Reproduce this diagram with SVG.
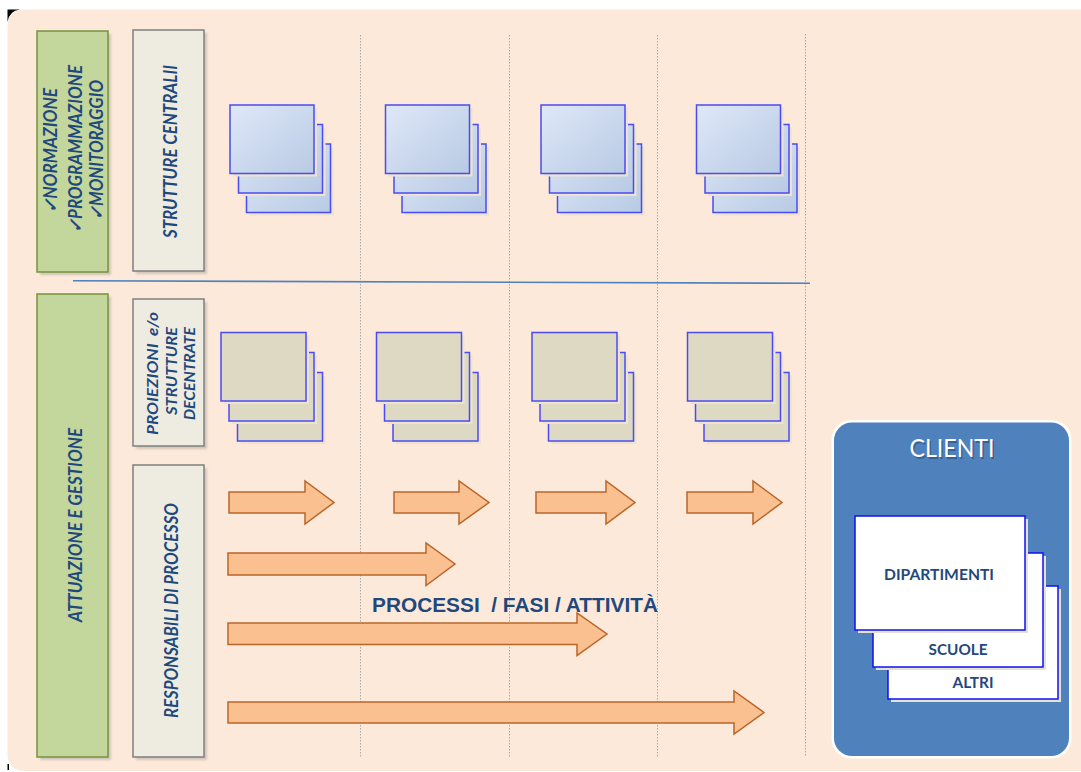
<svg xmlns="http://www.w3.org/2000/svg" xmlns:xlink="http://www.w3.org/1999/xlink" width="1081" height="772" viewBox="0 0 1081 772">
  <defs>
    <style>
      .lbl { font-family: Lato, "Open Sans", "Liberation Sans", sans-serif; font-style: italic; font-weight: bold; fill: #1F497D; }
      .green { fill: #C3D69B; stroke: #77933C; stroke-width: 1.5; }
      .gray { fill: #EEECE1; stroke: #7F7F7F; stroke-width: 1.5; }
      .shadow { fill: #9A9A9A; opacity: 0.45; }
      .card-shadow { fill: #EDE3D0; }
      .card-blue { fill: url(#gBlue); stroke: #4B4BF0; stroke-width: 1.5; }
      .card-tan { fill: #DDD9C3; stroke: #4B4BF0; stroke-width: 1.5; }
      .card-white { fill: #FFFFFF; stroke: #1010F0; stroke-width: 1.5; }
      .card-white-shadow { fill: #E6E0CF; }
      .arrow { fill: #FAC090; stroke: #B9652A; stroke-width: 1.5; stroke-linejoin: miter; }
      .grid { stroke: #A8A8A8; stroke-width: 1; stroke-dasharray: 1.5 1.5; fill: none; }
      .client-lbl { font-family: Lato, "Open Sans", "Liberation Sans", sans-serif; font-weight: bold; fill: #1F497D; font-size: 16px; text-anchor: middle; }
    </style>
    <linearGradient id="gBlue" x1="0" y1="0" x2="1" y2="1">
      <stop offset="0" stop-color="#DFE8F8"/>
      <stop offset="1" stop-color="#B8CAE4"/>
    </linearGradient>
    <filter id="soft" x="-10%" y="-10%" width="130%" height="130%">
      <feGaussianBlur stdDeviation="1"/>
    </filter>
    <!-- stack of three cards, front card at origin -->
    <g id="stack-blue">
      <rect class="card-shadow" x="19.5" y="42" width="84" height="68.5"/>
      <rect class="card-blue" x="16.5" y="39" width="84" height="68.5"/>
      <rect class="card-shadow" x="11.5" y="22.5" width="84" height="68.5"/>
      <rect class="card-blue" x="8.5" y="19.5" width="84" height="68.5"/>
      <rect class="card-shadow" x="3" y="3" width="84" height="68.5"/>
      <rect class="card-blue" x="0" y="0" width="84" height="68.5"/>
    </g>
    <g id="stack-tan">
      <rect class="card-shadow" x="19.5" y="43" width="85" height="68.5"/>
      <rect class="card-tan" x="16.5" y="40" width="85" height="68.5"/>
      <rect class="card-shadow" x="11" y="23" width="85" height="68.5"/>
      <rect class="card-tan" x="8" y="20" width="85" height="68.5"/>
      <rect class="card-shadow" x="3" y="3" width="85" height="68.5"/>
      <rect class="card-tan" x="0" y="0" width="85" height="68.5"/>
    </g>
  </defs>

  <!-- page -->
  <rect x="0" y="0" width="1081" height="772" fill="#FFFFFF"/>
  <path d="M7.5,22 L7.5,9.5 L20,9.5 Q9,11 7.5,22 Z" fill="#000000"/>
  <path d="M7.5,27.5 Q7.5,9.5 25.5,9.5 L1081,9.5 L1081,771 L25.5,771 Q7.5,771 7.5,753 Z" fill="#FDE9D9"/>
  <rect x="7.5" y="764" width="1.5" height="6" fill="#000000"/>

  <!-- column guides -->
  <g id="guides">
    <line class="grid" x1="360.5" y1="35" x2="360.5" y2="757"/>
    <line class="grid" x1="509.5" y1="35" x2="509.5" y2="757"/>
    <line class="grid" x1="657.5" y1="35" x2="657.5" y2="757"/>
    <line class="grid" x1="805.5" y1="34" x2="805.5" y2="757"/>
    <line x1="73" y1="280.8" x2="810" y2="283.3" stroke="#4F81BD" stroke-width="1.6"/>
  </g>

  <!-- left-hand bands -->
  <g id="governo">
    <rect class="shadow" x="40" y="34" width="71" height="241" filter="url(#soft)"/>
    <rect class="green" x="37" y="31" width="71" height="241"/>
    <text class="lbl" font-size="18" text-anchor="middle" transform="translate(57,150.5) rotate(-90)" textLength="125" lengthAdjust="spacingAndGlyphs">✓NORMAZIONE</text>
    <text class="lbl" font-size="18" text-anchor="middle" transform="translate(81.5,149) rotate(-90)" textLength="168" lengthAdjust="spacingAndGlyphs">✓PROGRAMMAZIONE</text>
    <text class="lbl" font-size="18" text-anchor="middle" transform="translate(103,150) rotate(-90)" textLength="140" lengthAdjust="spacingAndGlyphs">✓MONITORAGGIO</text>
  </g>
  <g id="attuazione">
    <rect class="shadow" x="40" y="297" width="71" height="463" filter="url(#soft)"/>
    <rect class="green" x="37" y="294" width="71" height="463"/>
    <text class="lbl" font-size="18" text-anchor="middle" transform="translate(81.5,525) rotate(-90)" textLength="194" lengthAdjust="spacingAndGlyphs">ATTUAZIONE E GESTIONE</text>
  </g>
  <g id="strutture-centrali">
    <rect class="shadow" x="136" y="33" width="71" height="241" filter="url(#soft)"/>
    <rect class="gray" x="133" y="30" width="71" height="241"/>
    <text class="lbl" font-size="18" text-anchor="middle" transform="translate(177,151.5) rotate(-90)" textLength="173" lengthAdjust="spacingAndGlyphs">STRUTTURE CENTRALII</text>
  </g>
  <g id="strutture-decentrate">
    <rect class="shadow" x="136" y="302" width="71" height="147" filter="url(#soft)"/>
    <rect class="gray" x="133" y="299" width="71" height="147"/>
    <text class="lbl" font-size="16" text-anchor="middle" transform="translate(158,373.5) rotate(-90)" textLength="123" lengthAdjust="spacingAndGlyphs" xml:space="preserve">PROIEZIONI  e/o</text>
    <text class="lbl" font-size="16" text-anchor="middle" transform="translate(176.5,371) rotate(-90)" textLength="88" lengthAdjust="spacingAndGlyphs">STRUTTURE</text>
    <text class="lbl" font-size="16" text-anchor="middle" transform="translate(194.5,373.5) rotate(-90)" textLength="93" lengthAdjust="spacingAndGlyphs">DECENTRATE</text>
  </g>
  <g id="responsabili">
    <rect class="shadow" x="136" y="468" width="71" height="292" filter="url(#soft)"/>
    <rect class="gray" x="133" y="465" width="71" height="292"/>
    <text class="lbl" font-size="18" text-anchor="middle" transform="translate(178,610.5) rotate(-90)" textLength="215" lengthAdjust="spacingAndGlyphs">RESPONSABILI DI PROCESSO</text>
  </g>

  <!-- central structures -->
  <g id="centrale-1" transform="translate(230,105)"><use href="#stack-blue"/></g>
  <g id="centrale-2" transform="translate(385.5,105)"><use href="#stack-blue"/></g>
  <g id="centrale-3" transform="translate(541,105)"><use href="#stack-blue"/></g>
  <g id="centrale-4" transform="translate(696.5,105)"><use href="#stack-blue"/></g>

  <!-- decentralised structures -->
  <g id="decentrata-1" transform="translate(221,332.5)"><use href="#stack-tan"/></g>
  <g id="decentrata-2" transform="translate(376.5,332.5)"><use href="#stack-tan"/></g>
  <g id="decentrata-3" transform="translate(532,332.5)"><use href="#stack-tan"/></g>
  <g id="decentrata-4" transform="translate(687.5,332.5)"><use href="#stack-tan"/></g>

  <!-- process arrows -->
  <g id="processi">
    <polygon class="arrow" points="229,492 305,492 305,481 334,502.5 305,524 305,513 229,513"/>
    <polygon class="arrow" points="394,492 459,492 459,481 489,502.5 459,524 459,513 394,513"/>
    <polygon class="arrow" points="536,492 606,492 606,481 635,502.5 606,524 606,513 536,513"/>
    <polygon class="arrow" points="687,492 753,492 753,481 782,502.5 753,524 753,513 687,513"/>
    <polygon class="arrow" points="228,553 426,553 426,543 455,564 426,585.5 426,575 228,575"/>
    <polygon class="arrow" points="228,623 577,623 577,613 607,634 577,655.5 577,644.5 228,644.5"/>
    <polygon class="arrow" points="228,702 734,702 734,691 764,712.5 734,734 734,723 228,723"/>
    <text x="372" y="612" font-family="'Liberation Sans', Arial, sans-serif" font-weight="bold" font-size="21" fill="#1F497D" textLength="286" lengthAdjust="spacingAndGlyphs" xml:space="preserve">PROCESSI  / FASI / ATTIVITÀ</text>
  </g>

  <!-- clients -->
  <g id="clienti">
    <rect x="831.5" y="420" width="240" height="338.5" rx="20" fill="#FFFFFF"/>
    <rect x="834" y="422.5" width="235" height="333.5" rx="18" fill="#4F81BD"/>
    <text x="953.5" y="458.5" font-family="Lato, 'Open Sans', 'Liberation Sans', sans-serif" font-size="25" text-anchor="middle" fill="#1F3A5F" opacity="0.45" textLength="85" lengthAdjust="spacingAndGlyphs">CLIENTI</text>
    <text x="952" y="457" font-family="Lato, 'Open Sans', 'Liberation Sans', sans-serif" font-size="25" text-anchor="middle" fill="#FFFFFF" textLength="85" lengthAdjust="spacingAndGlyphs">CLIENTI</text>
  </g>
  <g id="altri">
    <rect class="card-white-shadow" x="891" y="589" width="170" height="113"/>
    <rect class="card-white" x="888" y="586" width="170" height="113"/>
    <text class="client-lbl" x="973" y="688" textLength="41" lengthAdjust="spacingAndGlyphs">ALTRI</text>
  </g>
  <g id="scuole">
    <rect class="card-white-shadow" x="876" y="556" width="170" height="114"/>
    <rect class="card-white" x="873" y="553" width="170" height="114"/>
    <text class="client-lbl" x="958" y="655" textLength="59" lengthAdjust="spacingAndGlyphs">SCUOLE</text>
  </g>
  <g id="dipartimenti">
    <rect class="card-white-shadow" x="858" y="519" width="170" height="114"/>
    <rect class="card-white" x="855" y="516" width="170" height="114"/>
    <text class="client-lbl" x="939" y="580" textLength="110" lengthAdjust="spacingAndGlyphs">DIPARTIMENTI</text>
  </g>
</svg>
